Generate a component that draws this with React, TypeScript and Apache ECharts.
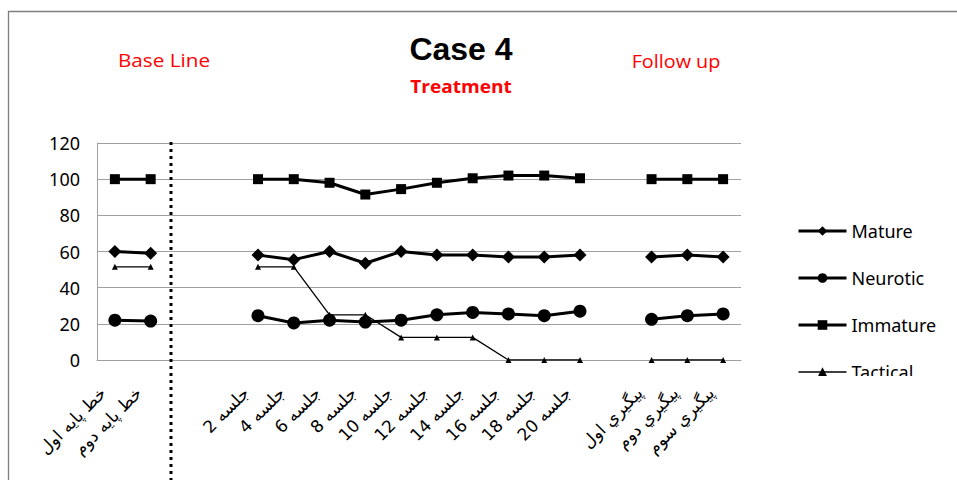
import React, { useEffect, useRef } from 'react';
import * as echarts from 'echarts';

// Session labels along the x axis (blank entries separate the phases)
const categories = [
  'خط پایه اول', 'خط پایه دوم', '', '',
  'جلسه 2', 'جلسه 4', 'جلسه 6', 'جلسه 8', 'جلسه 10',
  'جلسه 12', 'جلسه 14', 'جلسه 16', 'جلسه 18', 'جلسه 20', '',
  'پيگيري اول', 'پيگيري دوم', 'پيگيري سوم',
];

const seriesNames = ['Mature', 'Neurotic', 'Immature', 'Tactical'];

const mature = [60, 59, null, null, 58, 55.5, 60, 53.5, 60, 58, 58, 57, 57, 58, null, 57, 58, 57];
const neurotic = [22, 21.5, null, null, 24.5, 20.5, 22, 21, 22, 25, 26.3, 25.5, 24.5, 27, null, 22.5, 24.5, 25.5];
const immature = [100, 100, null, null, 100, 100, 98, 91.5, 94.5, 98, 100.5, 102, 102, 100.5, null, 100, 100, 100];
const tactical = [51.5, 51.5, null, null, 51.5, 51.5, 25, 25, 12.5, 12.5, 12.5, 0, 0, 0, null, 0, 0, 0];

const yTicks = { min: 0, max: 120, interval: 20 };

const phaseTitles = { base: 'Base Line', treatment: 'Treatment', follow: 'Follow up' };
const chartTitle = 'Case 4';

export default function App() {
  const ref = useRef<HTMLDivElement>(null);

  useEffect(() => {
    if (!ref.current) return;
    const chart = echarts.init(ref.current, null, { renderer: 'svg' });

    const lineSeries = (name: string, data: (number | null)[], symbol: string, size: number, width: number) => ({
      name,
      type: 'line',
      data,
      symbol,
      symbolSize: size,
      connectNulls: false,
      color: '#000',
      lineStyle: { color: '#000', width },
      itemStyle: { color: '#000' },
      emphasis: { disabled: true },
    });

    const legendItem = (name: string, width: number) => ({
      name,
      lineStyle: { color: '#000', width },
      itemStyle: { color: '#000' },
    });

    const redText = (text: string, x: number, y: number, scaleX: number, bold = false) => ({
      type: 'text',
      z: 100,
      x,
      y,
      scaleX,
      style: {
        text,
        fontSize: 18,
        fontWeight: bold ? 'bold' : 'normal',
        fontFamily: 'Open Sans',
        fill: '#ff0000',
        align: 'center',
        verticalAlign: 'middle',
      },
    });

    chart.setOption({
      animation: false,
      backgroundColor: '#fff',
      textStyle: { fontFamily: 'Noto Sans' },
      grid: { left: 97, top: 143, width: 644, height: 217, containLabel: false },
      xAxis: {
        type: 'category',
        data: categories,
        boundaryGap: true,
        axisLine: { show: true, lineStyle: { color: '#a0a0a0', width: 1 } },
        axisTick: { show: false },
        axisLabel: {
          interval: 0,
          rotate: 45,
          fontSize: 17,
          fontFamily: 'DejaVu Sans',
          color: '#000',
          margin: 18,
          padding: [0, 17, 0, 0],
        },
      },
      yAxis: {
        type: 'value',
        min: yTicks.min,
        max: yTicks.max,
        interval: yTicks.interval,
        axisLine: { show: true, lineStyle: { color: '#a0a0a0', width: 1 } },
        axisTick: { show: false },
        splitLine: { lineStyle: { color: '#a0a0a0', width: 1 } },
        axisLabel: { fontSize: 18, color: '#000', margin: 17, fontFamily: 'Noto Sans' },
      },
      legend: {
        orient: 'vertical',
        left: 792,
        top: 217,
        itemWidth: 48,
        itemHeight: 12,
        itemGap: 29,
        textStyle: { fontSize: 18, color: '#000', fontFamily: 'Noto Sans' },
        data: [
          legendItem(seriesNames[0], 3),
          legendItem(seriesNames[1], 3),
          legendItem(seriesNames[2], 3),
          legendItem(seriesNames[3], 1.3),
        ],
      },
      series: [
        lineSeries(seriesNames[0], mature, 'diamond', 13, 3),
        lineSeries(seriesNames[1], neurotic, 'circle', 13, 3),
        lineSeries(seriesNames[2], immature, 'rect', 10, 3),
        lineSeries(seriesNames[3], tactical, 'triangle', 6, 1.3),
      ],
      graphic: [
        {
          type: 'rect',
          z: 100,
          shape: { x: 8.5, y: 11.5, width: 1200, height: 1200 },
          style: { fill: 'none', stroke: '#7f7f7f', lineWidth: 1.3 },
          silent: true,
        },
        {
          type: 'line',
          z: 90,
          shape: { x1: 171, y1: 142, x2: 171, y2: 480 },
          style: { stroke: '#000', lineWidth: 3, lineDash: [3, 4] },
          silent: true,
        },
        {
          // the legend box ends here, cutting the last entry
          type: 'rect',
          z: 95,
          shape: { x: 770, y: 376, width: 186, height: 104 },
          style: { fill: '#fff' },
          silent: true,
        },
        {
          type: 'text',
          z: 100,
          x: 461,
          y: 49,
          style: {
            text: chartTitle,
            fontSize: 32,
            fontWeight: 'bold',
            fontFamily: 'Liberation Sans',
            fill: '#000',
            align: 'center',
            verticalAlign: 'middle',
          },
        },
        redText(phaseTitles.treatment, 461, 86, 1.06, true),
        redText(phaseTitles.base, 164, 60, 1.15),
        redText(phaseTitles.follow, 676, 61, 1.1),
      ],
    });

    return () => chart.dispose();
  }, []);

  return (
    <div
      ref={ref}
      style={{ position: 'fixed', left: 0, top: 0, width: 957, height: 480, background: '#fff' }}
    />
  );
}
